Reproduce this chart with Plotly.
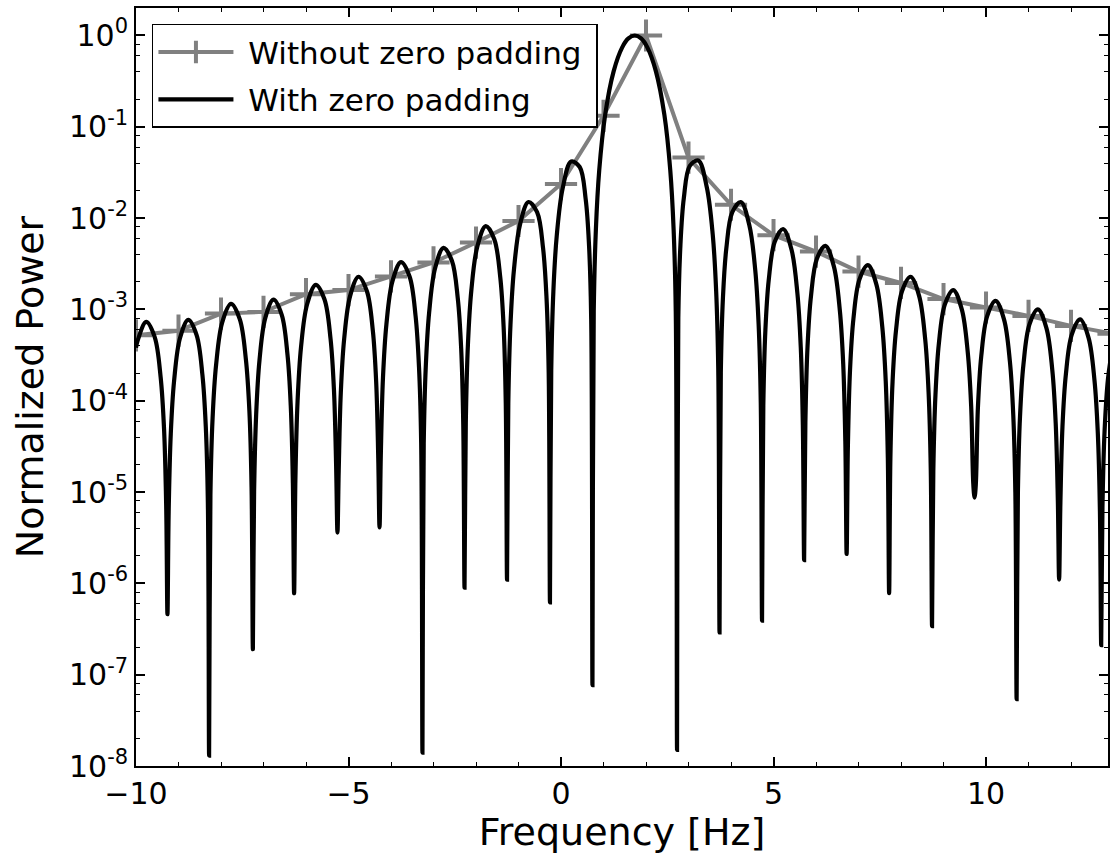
import math
import plotly.graph_objects as go

# ---- data ----
# without zero padding (one sample per Hz)
uz_freq = [-10, -9, -8, -7, -6, -5, -4, -3, -2, -1, 0, 1, 2, 3, 4, 5, 6, 7, 8, 9, 10, 11, 12, 13]
uz_power = [5.2e-4, 5.85e-4, 9.0e-4, 9.4e-4, 1.47e-3, 1.63e-3, 2.3e-3, 3.27e-3, 5.4e-3, 9.3e-3,
            2.36e-2, 0.132, 1.0, 0.046, 0.014, 6.5e-3, 4.3e-3, 2.6e-3, 1.95e-3, 1.30e-3,
            1.05e-3, 8.5e-4, 6.6e-4, 5.4e-4]

# with zero padding (dense curve, read lobe by lobe: shoulders, peak, null)
zp_freq = [
    -10.00, -9.96, -9.76, -9.56, -9.42, -9.34, -9.29, -9.26,
    -9.231, -9.182, -9.103, -8.966, -8.770, -8.574, -8.437, -8.358, -8.309, -8.28,
    -8.249, -8.198, -8.115, -7.971, -7.765, -7.559, -7.415, -7.332, -7.281, -7.25,
    -7.221, -7.172, -7.095, -6.959, -6.765, -6.571, -6.435, -6.358, -6.309, -6.28,
    -6.249, -6.198, -6.117, -5.974, -5.770, -5.566, -5.423, -5.342, -5.291, -5.26,
    -5.230, -5.181, -5.102, -4.963, -4.765, -4.567, -4.428, -4.349, -4.300, -4.27,
    -4.240, -4.189, -4.108, -3.967, -3.765, -3.563, -3.422, -3.341, -3.290, -3.26,
    -3.230, -3.181, -3.102, -2.963, -2.765, -2.567, -2.428, -2.349, -2.300, -2.27,
    -2.240, -2.190, -2.110, -1.970, -1.770, -1.570, -1.430, -1.350, -1.300, -1.27,
    -1.240, -1.189, -1.108, -0.967, -0.765, -0.563, -0.422, -0.341, -0.290, -0.26,
    -0.230, -0.180, -0.100, 0.040, 0.240, 0.440, 0.580, 0.660, 0.710, 0.74,
    0.770, 0.820, 0.899, 1.039, 1.238, 1.437, 1.586, 1.735, 1.884, 2.034, 2.233, 2.432, 2.571, 2.650, 2.700, 2.73,
    2.760, 2.810, 2.890, 3.030, 3.230, 3.430, 3.570, 3.650, 3.700, 3.73,
    3.760, 3.810, 3.890, 4.030, 4.230, 4.430, 4.570, 4.650, 4.700, 4.73,
    4.760, 4.809, 4.888, 5.027, 5.225, 5.423, 5.562, 5.641, 5.690, 5.72,
    5.750, 5.800, 5.880, 6.020, 6.220, 6.420, 6.560, 6.640, 6.690, 6.72,
    6.750, 6.800, 6.880, 7.020, 7.220, 7.420, 7.560, 7.640, 7.690, 7.72,
    7.750, 7.801, 7.882, 8.023, 8.225, 8.427, 8.568, 8.649, 8.700, 8.73,
    8.760, 8.810, 8.890, 9.030, 9.230, 9.430, 9.570, 9.650, 9.700, 9.73,
    9.760, 9.809, 9.888, 10.027, 10.225, 10.423, 10.562, 10.641, 10.690, 10.72,
    10.750, 10.800, 10.880, 11.020, 11.220, 11.420, 11.560, 11.640, 11.690, 11.72,
    11.750, 11.799, 11.878, 12.017, 12.215, 12.413, 12.552, 12.631, 12.680, 12.71,
    12.740, 12.790, 12.870, 13.010,
]
zp_power = [
    3.8e-4, 4.58e-4, 7.3e-4, 4.97e-4, 1.81e-4, 4.92e-5, 7.12e-6, 4.6e-7,
    6.14e-6, 4.33e-5, 1.66e-4, 4.84e-4, 7.7e-4, 5.24e-4, 1.91e-4, 5.19e-5, 7.51e-6, 1.3e-8,
    9.17e-6, 6.46e-5, 2.48e-4, 7.22e-4, 1.15e-3, 7.83e-4, 2.85e-4, 7.75e-5, 1.12e-5, 1.9e-7,
    1.02e-5, 7.19e-5, 2.76e-4, 8.04e-4, 1.28e-3, 8.72e-4, 3.17e-4, 8.63e-5, 1.25e-5, 7.8e-7,
    1.42e-5, 1.00e-4, 3.88e-4, 1.14e-3, 1.86e-3, 1.29e-3, 4.79e-4, 1.31e-4, 1.91e-5, 3.6e-6,
    1.74e-5, 1.23e-4, 4.76e-4, 1.40e-3, 2.28e-3, 1.58e-3, 5.87e-4, 1.61e-4, 2.34e-5, 4.1e-6,
    2.51e-5, 1.78e-4, 6.89e-4, 2.03e-3, 3.30e-3, 2.29e-3, 8.50e-4, 2.33e-4, 3.39e-5, 1.4e-8,
    3.35e-5, 2.40e-4, 9.33e-4, 2.82e-3, 4.73e-3, 3.41e-3, 1.31e-3, 3.71e-4, 5.49e-5, 9.0e-7,
    5.79e-5, 4.14e-4, 1.61e-3, 4.87e-3, 8.17e-3, 5.88e-3, 2.27e-3, 6.41e-4, 9.48e-5, 1.1e-6,
    9.42e-5, 6.80e-4, 2.70e-3, 8.42e-3, 1.50e-2, 1.16e-2, 4.67e-3, 1.34e-3, 2.02e-4, 6.2e-7,
    2.14e-4, 1.57e-3, 6.43e-3, 2.13e-2, 4.17e-2, 3.63e-2, 1.62e-2, 4.97e-3, 7.84e-4, 7.7e-8,
    9.5e-4, 7.41e-3, 3.33e-2, 0.1353, 0.405, 0.737, 0.928, 1.0, 0.928, 0.737, 0.405, 0.1353, 3.33e-2, 7.41e-3, 9.5e-4, 1.5e-8,
    8.04e-4, 5.10e-3, 1.66e-2, 3.73e-2, 4.28e-2, 2.18e-2, 6.60e-3, 1.61e-3, 2.20e-4, 2.9e-7,
    2.02e-4, 1.34e-3, 4.67e-3, 1.16e-2, 1.50e-2, 8.42e-3, 2.70e-3, 6.80e-4, 9.42e-5, 3.9e-7,
    8.82e-5, 5.97e-4, 2.11e-3, 5.47e-3, 7.6e-3, 4.53e-3, 1.50e-3, 3.85e-4, 5.39e-5, 1.8e-6,
    5.77e-5, 3.90e-4, 1.38e-3, 3.58e-3, 4.97e-3, 2.96e-3, 9.80e-4, 2.52e-4, 3.52e-5, 2.1e-6,
    3.15e-5, 2.16e-4, 7.88e-4, 2.12e-3, 3.06e-3, 1.88e-3, 6.39e-4, 1.65e-4, 2.33e-5, 7.8e-7,
    2.34e-5, 1.61e-4, 5.87e-4, 1.58e-3, 2.28e-3, 1.40e-3, 4.76e-4, 1.23e-4, 1.74e-5, 3.4e-7,
    1.68e-5, 1.15e-4, 4.20e-4, 1.13e-3, 1.63e-3, 1.00e-3, 3.40e-4, 8.77e-5, 1.24e-5, 8.7e-6,
    1.21e-5, 8.36e-5, 3.08e-4, 8.44e-4, 1.24e-3, 7.79e-4, 2.68e-4, 6.97e-5, 9.88e-6, 5.4e-8,
    9.75e-6, 6.74e-5, 2.48e-4, 6.81e-4, 1.0e-3, 6.28e-4, 2.16e-4, 5.62e-5, 7.97e-6, 1.1e-6,
    7.59e-6, 5.24e-5, 1.93e-4, 5.30e-4, 7.78e-4, 4.89e-4, 1.68e-4, 4.37e-5, 6.20e-6, 2.1e-7,
    6.8e-6, 4.7e-5, 1.74e-4, 4.77e-4,
]

# axis ticks
x_tick_vals = [-10, -5, 0, 5, 10]
x_tick_text = ["\u221210", "\u22125", "0", "5", "10"]
x_minor_vals = list(range(-10, 14))
y_exponents = [-8, -7, -6, -5, -4, -3, -2, -1, 0]
y_tick_vals = [10.0 ** e for e in y_exponents]
y_tick_text = ["10<sup>%d</sup>" % e for e in y_exponents]
y_minor_vals = [m * 10.0 ** e for e in range(-8, 1) for m in (2, 4, 6, 8)]

FONT = "DejaVu Sans"

fig = go.Figure()
fig.add_trace(go.Scatter(
    x=uz_freq, y=uz_power, mode="lines+markers",
    name="\u00a0Without zero padding\u00a0",
    legendgroup="a",
    line=dict(color="#808080", width=4),
    marker=dict(symbol="cross-thin", size=23, color="#808080",
                line=dict(color="#808080", width=4)),
))
fig.add_trace(go.Scatter(
    x=zp_freq, y=zp_power, mode="lines",
    name="\u00a0With zero padding",
    legendgroup="b",
    line=dict(color="#000000", width=4.2, shape="spline", smoothing=1.0),
))

axis_common = dict(
    showline=True, linecolor="black", linewidth=1.8, mirror="ticks",
    ticks="inside", ticklen=9, tickwidth=1.5, tickcolor="black",
    showgrid=False, zeroline=False,
    tickfont=dict(family=FONT, size=30, color="black"),
)

fig.update_layout(
    width=1110, height=854,
    margin=dict(l=136, r=0, t=8, b=88),
    paper_bgcolor="white", plot_bgcolor="white",
    font=dict(family=FONT, color="black"),
    showlegend=True,
    legend=dict(
        x=0.0164, y=0.979, xanchor="left", yanchor="top",
        bgcolor="white", bordercolor="black", borderwidth=1.5,
        font=dict(family=FONT, size=31, color="black"),
        itemwidth=75, tracegroupgap=4,
    ),
    xaxis=dict(
        range=[-10, 12.87],
        tickmode="array", tickvals=x_tick_vals, ticktext=x_tick_text,
        minor=dict(tickmode="array", tickvals=x_minor_vals, ticks="inside",
                   ticklen=4.5, tickwidth=1.2, tickcolor="black"),
        title=dict(text="Frequency [Hz]", font=dict(family=FONT, size=38, color="black"),
                   standoff=12),
        **axis_common,
    ),
    yaxis=dict(
        type="log", range=[-8, math.log10(2)],
        tickmode="array", tickvals=y_tick_vals, ticktext=y_tick_text,
        minor=dict(tickmode="array", tickvals=y_minor_vals, ticks="inside",
                   ticklen=4.5, tickwidth=1.2, tickcolor="black"),
        title=dict(text="Normalized Power", font=dict(family=FONT, size=38, color="black"),
                   standoff=14),
        **axis_common,
    ),
)

fig.write_html("out.html")
